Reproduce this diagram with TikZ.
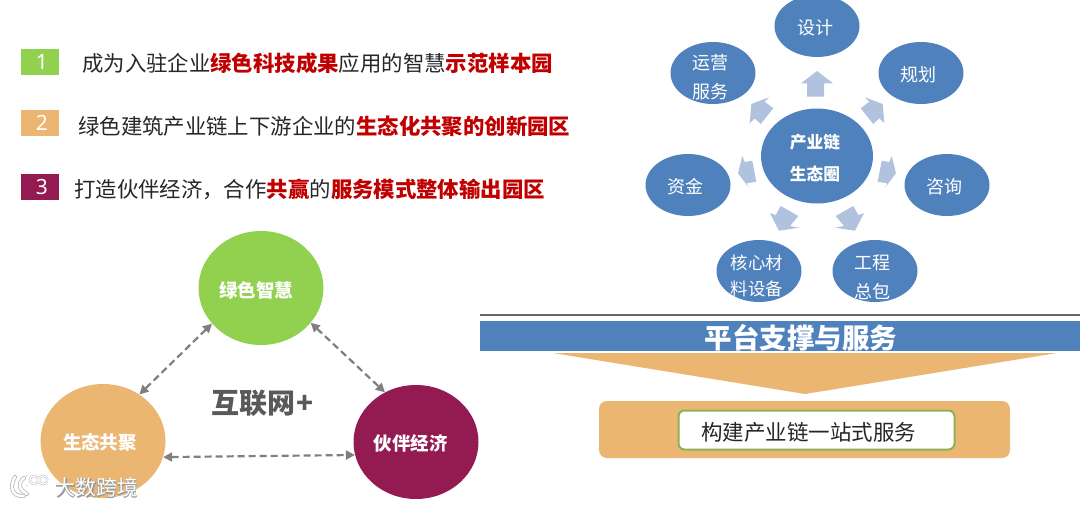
\documentclass[tikz,border=0pt]{standalone}
\usepackage{fontspec}
\setmainfont{Noto Sans CJK SC}
\newfontfamily\latinf{Noto Sans}
\usetikzlibrary{shapes.geometric,arrows.meta}
\definecolor{hubblue}{HTML}{4F81BD}
\definecolor{arrblue}{HTML}{B0C2DD}
\definecolor{lvgreen}{HTML}{92D050}
\definecolor{orangeb}{HTML}{EAB672}
\definecolor{purpleb}{HTML}{931B52}
\definecolor{redtxt}{HTML}{C00000}
\definecolor{inktxt}{HTML}{262626}
\definecolor{dashgray}{HTML}{7F7F7F}
\definecolor{framegreen}{HTML}{8DB255}
\newcommand{\rd}[1]{{\bfseries\color{redtxt}#1}}
\newcommand{\fs}[2]{\fontsize{#1}{#2}\selectfont}
\tikzset{
  leaf/.style={ellipse,fill=hubblue,minimum width=85pt,minimum height=62pt,inner sep=0pt},
  leaftxt/.style={text=white,align=center,font=\fs{18}{29},inner sep=0pt},
  big/.style={ellipse,minimum width=125pt,minimum height=114pt,inner sep=0pt},
  bigtxt/.style={inner sep=0pt,text=white,font=\fs{18.5}{24}\bfseries},
  numbox/.style={minimum width=38pt,minimum height=26pt,inner sep=0pt},
  numtxt/.style={inner sep=0pt,text=white,font=\latinf\fs{21}{24}},
  rowtxt/.style={anchor=west,inner sep=0pt,text=inktxt,font=\fs{21.4}{26}},
  link/.style={draw=dashgray,line width=2.2pt,dash pattern=on 7pt off 4pt,{Triangle[length=9pt,width=9pt]}-{Triangle[length=9pt,width=9pt]}},
  blockarr/.style={fill=arrblue}
}
\begin{document}
\begin{tikzpicture}[x=1pt,y=-1pt]
\useasboundingbox (0,0) rectangle (1080,506);
% numbered rows
\node[numbox,fill=lvgreen] (n1) at (40,62) {};
\node[numbox,fill=orangeb] (n2) at (40,122.5) {};
\node[numbox,fill=purpleb] (n3) at (40,187) {};
\node[numtxt] (n1t) at (42,62) {1};
\node[numtxt] (n2t) at (42,122.5) {2};
\node[numtxt] (n3t) at (42,187) {3};
\node[rowtxt] (r1) at (82,63) {成为入驻企业\rd{绿色科技成果}应用的智慧\rd{示范样本园}};
\node[rowtxt] (r2) at (78,126) {绿色建筑产业链上下游企业的\rd{生态化共聚的创新园区}};
\node[rowtxt] (r3) at (74,189) {打造伙伴经济，合作\rd{共赢}的\rd{服务模式整体输出园区}};
% triangle of circles
\node[big,fill=lvgreen] (lv) at (261,288) {};
\node[big,fill=orangeb] (st) at (103,441) {};
\node[big,fill=purpleb] (hb) at (416,442) {};
\node[bigtxt] (lvt) at (256,290) {绿色智慧};
\node[bigtxt] (stt) at (100,442) {生态共聚};
\node[bigtxt] (hbt) at (410.5,443) {伙伴经济};
\draw[link] (lv.216) -- (st.52);
\draw[link] (lv.-35) -- (hb.122);
\draw[link] (st.-15) -- (hb.192);
\node[inner sep=0pt,text=black!65,font=\fs{28}{32}\bfseries] (hl) at (263,403) {互联网\kern1pt+};
% hub
\node[ellipse,fill=hubblue,minimum width=112pt,minimum height=95pt,inner sep=0pt] (hub) at (817,156) {};
\node[text=white,align=center,inner sep=0pt,font=\fs{16.7}{32}\bfseries] (hubt) at (815,158) {产业链\\生态圈};
\node[leaf] (a) at (817,26) {};
\node[leaf] (b) at (921,73) {};
\node[leaf] (c) at (713,73) {};
\node[leaf] (d) at (947,185) {};
\node[leaf] (e) at (688,185) {};
\node[leaf] (f) at (759,271) {};
\node[leaf] (g) at (875,271) {};
\node[leaftxt] (at) at (815,28) {设计};
\node[leaftxt] (bt) at (918,75) {规划};
\node[leaftxt] (ct) at (710,77.5) {运营\\服务};
\node[leaftxt] (dt) at (944,187) {咨询};
\node[leaftxt] (et) at (685,187) {资金};
\node[leaftxt,font=\fs{17.4}{25.5}] (ft) at (757,276) {核心材\\料设备};
\node[leaftxt] (gt) at (872,277) {工程\\总包};
% block arrows round the hub
\fill[blockarr] (817,71) -- (833,83.3) -- (824,83.3) -- (824,96.7) -- (807,96.7) -- (807,83.3) -- (801,83.3) -- cycle;
\fill[blockarr] (865,97.3) -- (882.7,104) -- (884.3,123.3) -- (879.3,118.3) -- (873.3,124) -- (860.7,108.3) -- (869.3,101.7) -- cycle;
\fill[blockarr] (769,97.3) -- (751.3,104) -- (749.7,123.3) -- (754.7,118.3) -- (760.7,124) -- (773.3,108.3) -- (764.7,101.7) -- cycle;
\fill[blockarr] (881.7,160.7) -- (889.3,162) -- (891.7,156) -- (896,173.3) -- (885,187.7) -- (887.3,183.3) -- (877.7,181.7) -- cycle;
\fill[blockarr] (752.3,160.7) -- (744.7,162) -- (742.3,156) -- (738,173.3) -- (749,187.7) -- (746.7,183.3) -- (756.3,181.7) -- cycle;
\fill[blockarr] (835.7,216) -- (853.3,206) -- (858.3,215) -- (864,213.3) -- (855,230.7) -- (835,227.7) -- (844,226) -- cycle;
\fill[blockarr] (798.3,216) -- (780.7,206) -- (775.7,215) -- (770,213.3) -- (779,230.7) -- (799,227.7) -- (790,226) -- cycle;
% platform
\coordinate (ruleL) at (480,315);
\coordinate (ruleR) at (1080,315);
\draw[black!60,line width=1.4pt] (ruleL) -- (ruleR);
\fill[hubblue] (480,321) rectangle (1080,351);
\node[inner sep=0pt,text=white,font=\fs{27.5}{30}\bfseries] (pf) at (801,338) {平台支撑与服务};
\fill[orangeb] (553,353) -- (1057,353) -- (805,394) -- cycle;
\node[rectangle,rounded corners=8pt,fill=orangeb,minimum width=411pt,minimum height=57pt,inner sep=0pt] (base) at (804.5,429.5) {};
\node[rectangle,rounded corners=6pt,draw=framegreen,line width=2pt,fill=white,minimum width=276pt,minimum height=39pt,inner sep=0pt] (one) at (816.5,430) {};
\node[inner sep=0pt,text=inktxt,font=\fs{21.5}{26}] (onet) at (808.5,432) {构建产业链一站式服务};
% watermark
\node[inner sep=0pt,text=black!40,font=\fs{21}{24}\bfseries] (wm0) at (97,488) {大数跨境};
\node[inner sep=0pt,text=white,font=\fs{21}{24}] (wm) at (96.5,487.5) {大数跨境};
\foreach \c/\w/\t in {black!30/4pt/2.2pt,white/2.6pt/1.3pt}{
  \draw[\c,line width=\w,line cap=round] (15,477) .. controls (9,487) and (12,497) .. (24,496);
  \draw[\c,line width=\w,line cap=round] (24,478) .. controls (17,484) and (19,489) .. (27,494);
  \draw[\c,line width=\t,line cap=round] (27,476) -- (27,485);
  \draw[\c,line width=\t] (34,480) circle (4.2pt);
  \draw[\c,line width=\t] (43,480) circle (4.2pt);
}
\end{tikzpicture}
\end{document}
